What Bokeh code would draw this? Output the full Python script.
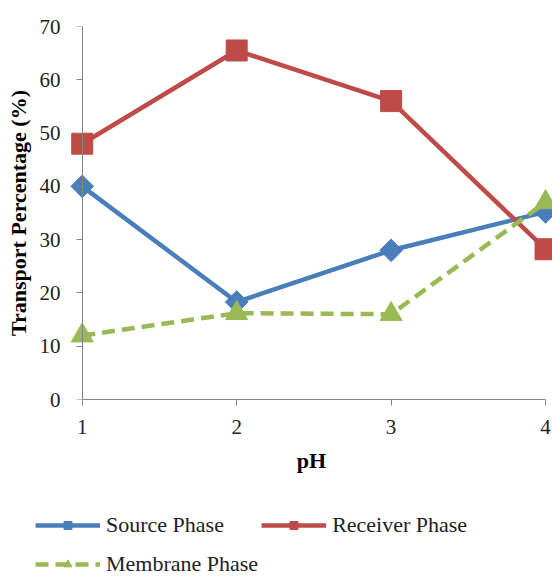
import math
from bokeh.plotting import figure
from bokeh.layouts import column
from bokeh.models import (ColumnDataSource, FixedTicker, Range1d, Legend, LegendItem,
                          LinearAxis)
from bokeh.embed import file_html
from bokeh.resources import INLINE

ph = [1, 2, 3, 4]
source_phase = [40.0, 18.3, 28.0, 35.2]
receiver_phase = [48.0, 65.5, 56.0, 28.2]
membrane_phase = [12.0, 16.2, 16.0, 37.0]
y_ticks = [0, 10, 20, 30, 40, 50, 60, 70]
x_ticks = [1, 2, 3, 4]

FONT = "Liberation Serif"
BLUE = "#4A7EBB"
RED = "#BE4B48"
GREEN = "#98B954"
AXIS = "#868686"

p = figure(width=552, height=490, output_backend="svg", toolbar_location=None,
           x_range=Range1d(0.924, 4.045), y_range=Range1d(0, 70),
           min_border_left=70, min_border_right=0, min_border_top=26,
           min_border_bottom=91)
p.outline_line_color = None
p.grid.visible = False
p.frame_align = False

src = ColumnDataSource(dict(x=ph, s=source_phase, r=receiver_phase, m=membrane_phase))

STY = dict(
    s=dict(color=BLUE, line_width=4.5),
    r=dict(color=RED, line_width=4.5),
    m=dict(color=GREEN, line_width=4.5, line_dash="13 7"),
)
MK = dict(
    s=dict(marker="square", angle=math.pi / 4, size=16, color=BLUE),
    r=dict(marker="square", size=21, color=RED),
    m=dict(marker="triangle", size=22, color=GREEN),
)

for key in ("s", "r", "m"):
    p.line("x", key, source=src, **STY[key])
    p.scatter("x", key, source=src, **MK[key])

# x axis
xa = p.xaxis[0]
xa.ticker = FixedTicker(ticks=x_ticks)
xa.bounds = (1, 4)
xa.axis_line_color = AXIS
xa.major_tick_line_color = AXIS
xa.minor_tick_line_color = None
xa.major_tick_in = 0
xa.major_tick_out = 6
xa.major_label_text_font = FONT
xa.major_label_text_font_size = "21px"
xa.major_label_text_color = "#222222"
xa.major_label_standoff = 14
xa.axis_label = "pH"
xa.axis_label_text_font = FONT
xa.axis_label_text_font_style = "bold"
xa.axis_label_text_font_size = "22px"
xa.axis_label_text_color = "#000000"
xa.axis_label_standoff = 11

# y axis line and ticks, sitting at x = 1
ya = p.yaxis[0]
ya.ticker = FixedTicker(ticks=y_ticks)
ya.bounds = (0, 70)
ya.fixed_location = 1
ya.axis_line_color = AXIS
ya.major_tick_line_color = AXIS
ya.minor_tick_line_color = None
ya.major_tick_in = 0
ya.major_tick_out = 6
ya.major_label_overrides = {t: "" for t in y_ticks}
ya.major_label_standoff = 0

# y tick labels and title
yl = LinearAxis(ticker=FixedTicker(ticks=y_ticks))
yl.axis_line_color = None
yl.major_tick_line_color = None
yl.minor_tick_line_color = None
yl.major_tick_in = 0
yl.major_tick_out = 0
yl.major_label_text_font = FONT
yl.major_label_text_font_size = "21px"
yl.major_label_text_color = "#222222"
yl.major_label_standoff = 10
yl.axis_label = "Transport Percentage (%)"
yl.axis_label_text_font = FONT
yl.axis_label_text_font_style = "bold"
yl.axis_label_text_font_size = "22px"
yl.axis_label_text_color = "#000000"
yl.axis_label_standoff = 6
p.add_layout(yl, "left")

# legend panel (its renderers use the same data, drawn outside this panel's view)
q = figure(width=552, height=87, output_backend="svg", toolbar_location=None,
           x_range=Range1d(100, 101), y_range=Range1d(100, 101),
           x_axis_location=None, y_axis_location=None,
           min_border_left=0, min_border_right=0, min_border_top=0,
           min_border_bottom=0)
q.outline_line_color = None
q.grid.visible = False
q.frame_align = False
rend = {}
for key in ("s", "r", "m"):
    lr = q.line("x", key, source=src, **STY[key])
    mr = q.scatter("x", key, source=src, **MK[key])
    rend[key] = [lr, mr]

items = [
    LegendItem(label="Source Phase", renderers=rend["s"]),
    LegendItem(label="Membrane Phase", renderers=rend["m"]),
    LegendItem(label="Receiver Phase", renderers=rend["r"]),
]
legend = Legend(items=items, ncols=2, location=(35, -5))
legend.label_text_font = FONT
legend.label_text_font_size = "22px"
legend.label_text_color = "#222222"
legend.glyph_width = 65
legend.glyph_height = 20
legend.label_height = 36
legend.label_standoff = 6
legend.spacing = 3
legend.padding = 0
legend.margin = 0
legend.border_line_color = None
legend.background_fill_alpha = 0
q.add_layout(legend, "center")

layout = column(p, q, spacing=0)
open("out.html", "w").write(file_html(layout, INLINE))
